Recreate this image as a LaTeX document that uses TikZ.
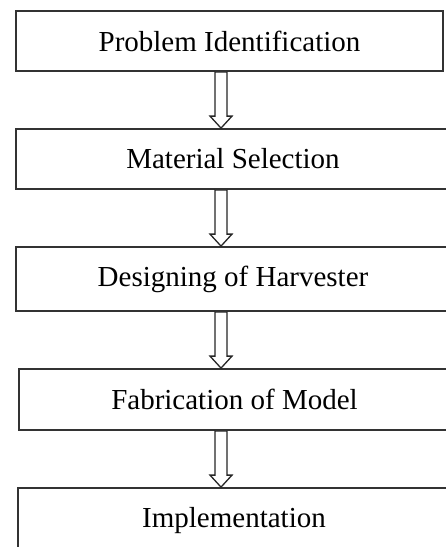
\documentclass[tikz,border=0pt]{standalone}
\usepackage{fontspec}
\setmainfont{Liberation Serif}
\usetikzlibrary{calc}
\newcommand{\stgshaftw}{6}
\newcommand{\stgheadw}{11}
\newcommand{\stgheadl}{12}
\newcommand{\stgarrow}[2]{%
  \draw[flowarrow]
    ($(#1.south -| arrx) + (-\stgshaftw, 0)$)
    -- ($(#2.north -| arrx) + (-\stgshaftw, -\stgheadl)$)
    -- ($(#2.north -| arrx) + (-\stgheadw, -\stgheadl)$)
    -- (#2.north -| arrx)
    -- ($(#2.north -| arrx) + (\stgheadw, -\stgheadl)$)
    -- ($(#2.north -| arrx) + (\stgshaftw, -\stgheadl)$)
    -- ($(#1.south -| arrx) + (\stgshaftw, 0)$)
    -- cycle;}
\tikzset{
  stagebox/.style={draw=black!80, line width=1.8pt, rectangle, inner sep=0pt,
    font=\fontsize{29}{34}\selectfont},
  flowarrow/.style={draw=black!85, line width=1.3pt, fill=white,
    line join=miter},
}
\begin{document}
\begin{tikzpicture}[x=1pt,y=-1pt]
    \useasboundingbox (0,0) rectangle (446,547);
    \clip (0,0) rectangle (446,547);
    \coordinate (arrx) at (221,0);

    \node[stagebox, minimum width=427pt, minimum height=60pt]
      (prob) at (229.5,41) {Problem Identification};
    \node[stagebox, minimum width=434pt, minimum height=60pt]
      (mat) at (233,159) {Material Selection};
    \node[stagebox, minimum width=434pt, minimum height=64pt]
      (des) at (233,279) {Designing of Harvester};
    \node[stagebox, minimum width=431pt, minimum height=61pt]
      (fab) at (234.5,399.5) {Fabrication of Model};
    \node[stagebox, minimum width=432pt, minimum height=66pt]
      (impl) at (234,521) {Implementation};

    \stgarrow{prob}{mat}
    \stgarrow{mat}{des}
    \stgarrow{des}{fab}
    \stgarrow{fab}{impl}
  \end{tikzpicture}
\end{document}
